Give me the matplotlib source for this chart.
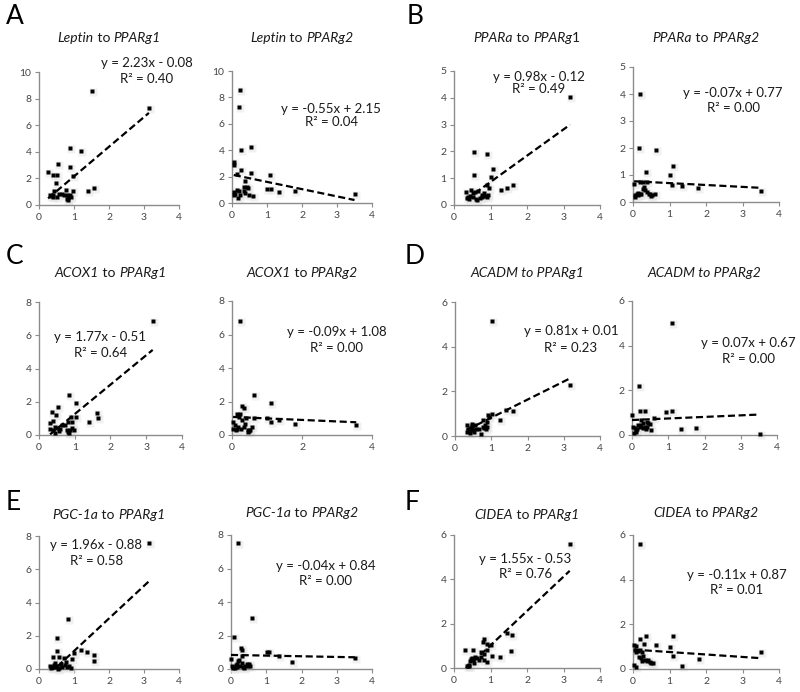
import matplotlib
matplotlib.use("Agg")
import matplotlib.pyplot as plt
import matplotlib.transforms as mtrans
from matplotlib.offsetbox import TextArea, HPacker, AnnotationBbox
import numpy as np

plt.rcParams['font.family'] = ['Lato', 'DejaVu Sans']

# ---------------- data ----------------
# Panel A: Leptin
a1_x = [1.52, 3.14, 0.89, 1.20, 0.53, 0.89, 0.26, 0.41, 0.50, 0.98, 0.48, 0.76, 0.98, 1.39, 1.57, 0.44, 0.57, 0.31, 0.41, 0.70, 0.79, 0.89, 0.84, 0.84, 0.41, 0.50, 0.91, 0.35, 0.65, 0.80]
a1_y = [8.57, 7.26, 4.30, 4.05, 3.09, 2.86, 2.49, 2.29, 2.29, 2.16, 1.66, 1.16, 1.06, 1.06, 1.28, 1.06, 0.85, 0.73, 0.73, 0.73, 0.73, 0.73, 0.53, 0.35, 0.60, 0.60, 0.60, 0.65, 0.80, 0.45]
a2_x = [0.24, 0.19, 0.27, 0.54, 0.05, 0.05, 0.27, 0.14, 0.54, 1.08, 0.36, 0.33, 0.43, 1.00, 1.12, 1.35, 1.81, 3.50, 0.05, 0.14, 0.05, 0.24, 0.38, 0.48, 0.60, 0.17, 0.33, 0.10, 0.20, 0.45]
a2_y = [8.56, 7.25, 4.03, 4.28, 3.07, 2.85, 2.49, 2.22, 2.24, 2.14, 1.64, 1.20, 1.20, 1.06, 1.06, 0.83, 0.93, 0.70, 0.80, 1.00, 0.63, 0.63, 0.75, 0.63, 0.50, 0.38, 0.90, 0.70, 0.90, 1.10]
# Panel B: PPARa
b1_x = [3.18, 0.55, 0.90, 1.08, 0.55, 1.02, 0.90, 0.97, 1.63, 1.45, 1.28, 0.33, 0.47, 0.65, 0.51, 0.38, 0.51, 0.61, 0.76, 0.82, 0.90, 0.92, 0.40, 0.76, 0.58, 0.45, 0.70, 0.85, 0.35, 0.62]
b1_y = [4.04, 1.98, 1.92, 1.33, 1.11, 1.03, 0.74, 0.64, 0.74, 0.65, 0.56, 0.50, 0.56, 0.54, 0.45, 0.30, 0.28, 0.22, 0.39, 0.45, 0.30, 0.39, 0.22, 0.30, 0.50, 0.35, 0.25, 0.35, 0.25, 0.20]
b2_x = [0.18, 0.16, 0.62, 1.10, 1.01, 0.35, 1.08, 1.35, 1.78, 3.52, 0.03, 0.18, 0.27, 0.37, 0.27, 0.32, 0.37, 0.05, 0.14, 0.23, 0.46, 0.53, 0.60, 0.10, 0.20, 0.43, 0.05, 0.30, 0.15, 0.50]
b2_y = [4.01, 2.00, 1.91, 1.33, 0.99, 1.11, 0.64, 0.58, 0.52, 0.40, 0.65, 0.74, 0.74, 0.74, 0.50, 0.43, 0.37, 0.25, 0.25, 0.31, 0.31, 0.25, 0.31, 0.30, 0.28, 0.28, 0.20, 0.55, 0.35, 0.22]
# Panel C: ACOX1
c1_x = [3.18, 0.84, 1.03, 0.52, 0.37, 0.48, 0.40, 1.62, 1.64, 1.41, 0.90, 0.82, 0.93, 1.04, 0.31, 0.64, 0.73, 0.31, 0.40, 0.45, 0.50, 0.59, 0.78, 0.82, 0.87, 0.92, 0.97, 0.55, 0.45, 0.85]
c1_y = [6.86, 2.40, 1.94, 1.66, 1.40, 1.20, 0.84, 1.30, 1.00, 0.80, 1.06, 0.80, 0.80, 1.06, 0.70, 0.60, 0.60, 0.34, 0.30, 0.50, 0.40, 0.34, 0.30, 0.20, 0.30, 0.40, 0.30, 0.25, 0.15, 0.15]
c2_x = [0.22, 0.62, 1.11, 0.30, 0.34, 0.15, 0.22, 0.62, 0.99, 1.34, 1.11, 1.80, 3.55, 0.03, 0.03, 0.12, 0.17, 0.27, 0.36, 0.46, 0.51, 0.56, 0.40, 0.20, 0.10, 0.45, 0.30, 0.50, 0.15, 0.35]
c2_y = [6.83, 2.37, 1.92, 1.72, 1.62, 1.24, 1.28, 1.04, 1.04, 0.92, 0.78, 0.68, 0.58, 0.78, 0.38, 0.32, 0.48, 0.38, 0.68, 0.28, 0.32, 0.48, 1.00, 1.10, 0.60, 0.20, 0.90, 0.25, 0.35, 0.50]
# Panel D: ACADM
d1_x = [1.01, 3.16, 1.42, 1.60, 1.24, 1.01, 0.91, 0.78, 0.87, 0.82, 0.76, 0.89, 0.32, 0.46, 0.55, 0.32, 0.71, 0.37, 0.44, 0.50, 0.58, 0.46, 0.41, 0.53, 0.85, 0.80, 0.95, 0.48, 0.65, 0.40]
d1_y = [5.13, 2.28, 1.15, 1.12, 0.70, 1.00, 0.93, 0.70, 0.63, 0.51, 0.40, 0.40, 0.51, 0.55, 0.51, 0.18, 0.07, 0.33, 0.28, 0.25, 0.33, 0.40, 0.15, 0.20, 0.30, 0.35, 0.85, 0.45, 0.30, 0.38]
d2_x = [1.09, 0.18, 0.21, 0.35, 0.95, 1.09, 0.00, 0.60, 1.34, 1.77, 3.52, 0.07, 0.12, 0.21, 0.26, 0.30, 0.35, 0.40, 0.44, 0.49, 0.53, 0.03, 0.16, 0.30, 0.10, 0.42, 0.25, 0.05, 0.38, 0.15]
d2_y = [5.03, 2.21, 1.07, 1.07, 1.01, 1.09, 0.90, 0.75, 0.25, 0.31, 0.04, 0.30, 0.22, 0.37, 0.45, 0.52, 0.37, 0.60, 0.52, 0.48, 0.22, 0.37, 0.45, 0.30, 0.15, 0.35, 0.65, 0.10, 0.28, 0.25]
# Panel E: PGC-1a
e1_x = [3.15, 0.84, 0.50, 0.50, 1.20, 1.38, 1.57, 1.57, 1.01, 0.95, 0.41, 0.58, 0.72, 0.30, 0.36, 0.42, 0.47, 0.52, 0.57, 0.66, 0.74, 0.80, 0.86, 0.90, 0.33, 0.45, 0.62, 0.78, 0.55, 0.40]
e1_y = [7.56, 3.00, 1.88, 1.10, 1.14, 1.00, 0.84, 0.48, 0.98, 0.58, 0.74, 0.74, 0.64, 0.20, 0.15, 0.25, 0.10, 0.20, 0.08, 0.15, 0.25, 0.10, 0.18, 0.05, 0.05, 0.35, 0.30, 0.40, 0.02, 0.12]
e2_x = [0.19, 0.59, 0.09, 0.27, 0.32, 1.01, 1.08, 1.36, 1.74, 3.51, 0.00, 0.30, 0.02, 0.07, 0.16, 0.21, 0.26, 0.30, 0.44, 0.49, 0.54, 0.11, 0.35, 0.40, 0.18, 0.24, 0.05, 0.14, 0.50, 0.36]
e2_y = [7.54, 3.02, 1.89, 1.23, 1.13, 1.03, 1.03, 0.78, 0.40, 0.68, 0.60, 0.80, 0.20, 0.10, 0.30, 0.45, 0.20, 0.38, 0.30, 0.18, 0.15, 0.05, 0.10, 0.20, 0.12, 0.55, 0.05, 0.25, 0.28, 0.08]
# Panel F: CIDEA
f1_x = [3.17, 1.45, 1.60, 1.56, 1.26, 1.03, 0.82, 0.79, 0.91, 1.00, 0.91, 0.74, 0.81, 0.91, 0.81, 0.30, 0.53, 0.47, 0.51, 0.58, 0.62, 0.44, 0.40, 0.35, 0.42, 0.55, 0.73, 0.68, 0.48, 0.38]
f1_y = [5.58, 1.57, 1.47, 0.75, 0.48, 0.55, 1.30, 1.17, 1.08, 1.05, 0.82, 0.72, 0.63, 0.25, 0.37, 0.82, 0.82, 0.40, 0.37, 0.48, 0.45, 0.30, 0.08, 0.10, 0.15, 0.22, 0.50, 0.35, 0.45, 0.10]
f2_x = [0.18, 0.35, 1.10, 0.20, 0.03, 0.07, 0.62, 1.01, 1.10, 1.35, 1.80, 3.52, 0.03, 0.07, 0.05, 0.09, 0.18, 0.26, 0.28, 0.17, 0.23, 0.32, 0.37, 0.46, 0.50, 0.55, 0.41, 0.30, 0.13, 0.25]
f2_y = [5.60, 1.48, 1.48, 1.33, 1.08, 1.03, 1.08, 1.00, 0.58, 0.15, 0.43, 0.78, 0.18, 0.10, 0.85, 0.78, 0.85, 0.78, 0.60, 0.55, 0.48, 0.42, 0.38, 0.32, 0.25, 0.25, 0.42, 1.10, 0.80, 0.35]

# trendline coefficients (slope, intercept) and R^2 as printed
slopes = [2.23, -0.55, 0.98, -0.07, 1.77, -0.09, 0.81, 0.07, 1.96, -0.04, 1.55, -0.11]
intercepts = [-0.08, 2.15, -0.12, 0.77, -0.51, 1.08, 0.01, 0.67, -0.88, 0.84, -0.53, 0.87]
r2 = [0.40, 0.04, 0.49, 0.00, 0.64, 0.00, 0.23, 0.00, 0.58, 0.00, 0.76, 0.01]

genes = ["Leptin", "Leptin", "PPARa", "PPARa", "ACOX1", "ACOX1",
         "ACADM", "ACADM", "PGC-1a", "PGC-1a", "CIDEA", "CIDEA"]
targets = ["PPARg1", "PPARg2"] * 6
ymax = [10, 10, 5, 5, 8, 8, 6, 6, 8, 8, 6, 6]
ystep = [2, 2, 1, 1, 2, 2, 2, 2, 2, 2, 2, 2]
panel_letters = ["A", "B", "C", "D", "E", "F"]

xs = [a1_x, a2_x, b1_x, b2_x, c1_x, c2_x, d1_x, d2_x, e1_x, e2_x, f1_x, f2_x]
ys = [a1_y, a2_y, b1_y, b2_y, c1_y, c2_y, d1_y, d2_y, e1_y, e2_y, f1_y, f2_y]

# ---------------- layout (pixels) ----------------
W, H = 800, 692
fig = plt.figure(figsize=(W / 100, H / 100), dpi=100)

# (left, right, top, bottom) in pixels
boxes = [
    (39, 179, 72, 205), (232, 372, 71, 203), (454, 600, 71, 205), (633, 779, 67, 202),
    (39, 182, 302, 435), (232, 372, 301, 435), (455, 600, 302, 436), (632, 777, 301, 435),
    (39, 179, 536, 669), (231, 372, 535, 669), (454, 600, 535, 668), (633, 779, 535, 669),
]
title_y = [38, 38, 38, 38, 273, 273, 273, 273, 515, 513, 515, 513]
# equation positions in axes fraction: (x, y line1, y line2)
eq_pos = [
    (0.77, 1.07, 0.95), (0.71, 0.71, 0.61), (0.58, 0.955, 0.866), (0.685, 0.81, 0.70),
    (0.43, 0.74, 0.62), (0.75, 0.77, 0.65), (0.80, 0.78, 0.66), (0.80, 0.69, 0.57),
    (0.41, 0.93, 0.81), (0.67, 0.77, 0.66), (0.49, 0.82, 0.71), (0.71, 0.70, 0.59),
]
eq_size = [9.5] * 12
letter_pos = [(15, 17), (415, 17), (15, 257), (415, 257), (13, 503), (412, 503)]

spine_c = "#8c8c8c"
tick_c = "#444444"

for i in range(12):
    l, r, t, b = boxes[i]
    ax = fig.add_axes([l / W, 1 - b / H, (r - l) / W, (b - t) / H])
    x = np.array(xs[i]); y = np.array(ys[i])
    shadow = mtrans.offset_copy(ax.transData, fig=fig, x=1.0, y=-1.0, units='dots')
    ax.plot(x, y, 's', ms=6.0, color='#e4e4e4', alpha=0.5, mec='none',
            transform=shadow, clip_on=False, zorder=2)
    ax.plot(x, y, 's', ms=3.0, color='black', mec='none', clip_on=False, zorder=3)
    xx = np.array([x.min(), x.max()])
    ln, = ax.plot(xx, slopes[i] * xx + intercepts[i], color='black', lw=1.6, zorder=4)
    ln.set_dashes([3.2, 1.6])
    ax.set_xlim(0, 4)
    ax.set_ylim(0, ymax[i])
    if i == 5:
        ax.set_xticks([0, 2, 4])
    else:
        ax.set_xticks([0, 1, 2, 3, 4])
    ax.set_yticks(np.arange(0, ymax[i] + 0.001, ystep[i]))
    for s in ['top', 'right']:
        ax.spines[s].set_visible(False)
    for s in ['left', 'bottom']:
        ax.spines[s].set_color(spine_c)
        ax.spines[s].set_linewidth(1.0)
    ax.tick_params(direction='out', length=3, width=0.8, color=spine_c,
                   labelcolor=tick_c, labelsize=7.5, pad=2.5)
    ax.patch.set_alpha(0)

    ex, ey1, ey2 = eq_pos[i]
    sign = '+' if intercepts[i] >= 0 else '-'
    eq = f"y = {slopes[i]:.2f}x {sign} {abs(intercepts[i]):.2f}"
    ax.text(ex, ey1, eq, transform=ax.transAxes, ha='center', va='center',
            fontsize=eq_size[i], color='#1a1a1a')
    ax.text(ex, ey2, f"R\u00b2 = {r2[i]:.2f}", transform=ax.transAxes, ha='center',
            va='center', fontsize=eq_size[i], color='#1a1a1a')

    # title with italic gene names
    g = genes[i]; tg = targets[i]
    it = dict(fontsize=10, style='italic', color='#1a1a1a')
    rm = dict(fontsize=10, style='normal', color='#1a1a1a')
    if g == "PPARa" and i == 2:
        parts = [(g, it), (" to ", rm), ("PPARg", it), ("1", rm)]
    elif g == "ACADM":
        parts = [(g + " to " + tg, it)]
    else:
        parts = [(g, it), (" to ", rm), (tg, it)]
    areas = [TextArea(s, textprops=p) for s, p in parts]
    pack = HPacker(children=areas, pad=0, sep=0, align='baseline')
    ab = AnnotationBbox(pack, ((l + r) / 2, H - title_y[i]), xycoords='figure pixels',
                        box_alignment=(0.5, 0.5), frameon=False, pad=0)
    fig.add_artist(ab)

for k, (px, py) in enumerate(letter_pos):
    fig.text(px / W, 1 - py / H, panel_letters[k], fontsize=19, ha='center',
             va='center', color='black')

fig.savefig("out.png", dpi=100)
